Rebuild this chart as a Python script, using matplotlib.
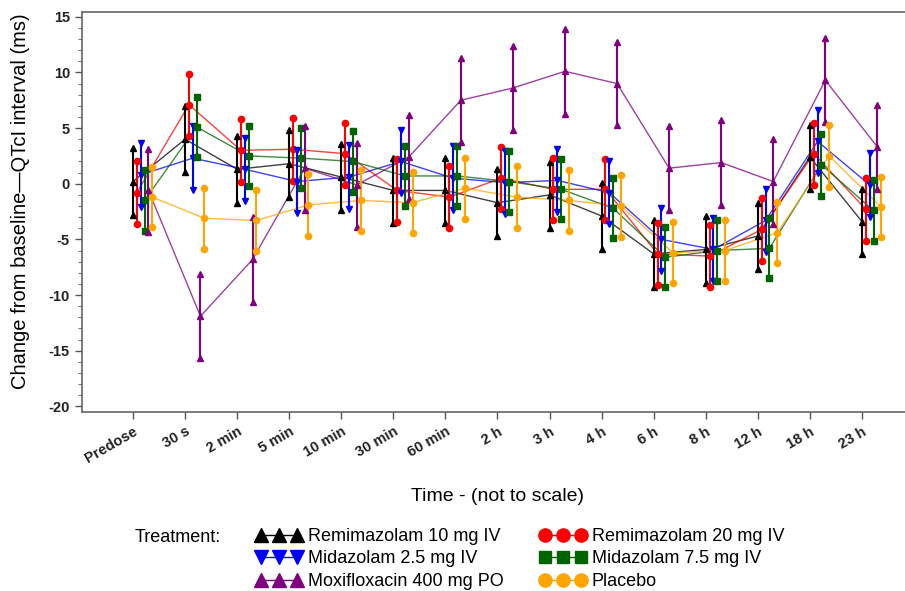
import numpy as np
import matplotlib
matplotlib.use('Agg')
import matplotlib.pyplot as plt
from matplotlib.lines import Line2D
from matplotlib.ticker import MultipleLocator

plt.rcParams['font.family'] = ['Liberation Sans', 'DejaVu Sans']
plt.rcParams['axes.unicode_minus'] = False

times = ["Predose", "30 s", "2 min", "5 min", "10 min", "30 min", "60 min",
         "2 h", "3 h", "4 h", "6 h", "8 h", "12 h", "18 h", "23 h"]

rem10 = [0.2, 4.0, 1.3, 1.8, 0.6, -0.6, -0.6, -1.7, -1.0, -2.9, -6.3, -5.9, -4.7, 2.4, -3.4]
rem10_err = [3.0, 2.95, 3.0, 3.0, 2.95, 2.95, 2.95, 3.0, 2.95, 2.95, 3.0, 3.0, 3.0, 2.9, 2.95]

rem20 = [-0.8, 7.1, 3.0, 3.1, 2.7, -0.6, -1.2, 0.5, -0.5, -0.5, -6.3, -6.5, -4.1, 2.7, -2.3]
rem20_err = [2.8, 2.8, 2.8, 2.85, 2.8, 2.8, 2.8, 2.8, 2.8, 2.75, 2.8, 2.8, 2.8, 2.8, 2.8]

mid25 = [0.8, 2.3, 1.3, 0.2, 0.6, 2.0, 0.5, 0.1, 0.3, -0.8, -5.0, -5.9, -3.3, 3.8, -0.1]
mid25_err = [2.85, 2.85, 2.85, 2.8, 2.9, 2.85, 2.85, 2.85, 2.85, 2.85, 2.85, 2.85, 2.85, 2.85, 2.9]

mid75 = [-1.5, 5.1, 2.5, 2.3, 2.0, 0.7, 0.7, 0.2, -0.5, -2.2, -6.6, -6.0, -5.8, 1.7, -2.4]
mid75_err = [2.7, 2.7, 2.7, 2.7, 2.7, 2.7, 2.7, 2.7, 2.7, 2.7, 2.7, 2.7, 2.7, 2.8, 2.75]

moxi = [-0.6, -11.9, -6.8, 1.4, -0.1, 2.4, 7.5, 8.6, 10.1, 9.0, 1.4, 1.9, 0.2, 9.3, 3.3]
moxi_err = [3.75, 3.75, 3.8, 3.8, 3.8, 3.8, 3.75, 3.75, 3.8, 3.75, 3.75, 3.8, 3.8, 3.75, 3.75]

placebo = [-1.2, -3.1, -3.3, -1.9, -1.5, -1.7, -0.4, -1.2, -1.5, -2.0, -6.2, -6.0, -4.4, 2.5, -2.1]
placebo_err = [2.7, 2.75, 2.75, 2.75, 2.75, 2.75, 2.75, 2.75, 2.75, 2.75, 2.75, 2.75, 2.75, 2.75, 2.7]

# drawing order = offset order within each time point
series = [
    ("Remimazolam 10 mg IV", rem10, rem10_err, "black", "^"),
    ("Remimazolam 20 mg IV", rem20, rem20_err, "#ff0000", "o"),
    ("Midazolam 2.5 mg IV", mid25, mid25_err, "#0000ff", "v"),
    ("Midazolam 7.5 mg IV", mid75, mid75_err, "#006400", "s"),
    ("Moxifloxacin 400 mg PO", moxi, moxi_err, "#800080", "^"),
    ("Placebo", placebo, placebo_err, "#ffa500", "o"),
]

fig = plt.figure(figsize=(9.05, 5.91), dpi=100)
ax = fig.add_axes([0.0903, 0.3029, 0.9197, 0.6763])

x = np.arange(len(times))
handles = {}
for i, (name, mean, err, color, mk) in enumerate(series):
    xs = x + i * 0.074
    mean = np.array(mean)
    err = np.array(err)
    ax.plot(xs, mean, color=color, lw=1.0, alpha=0.75, zorder=2)
    ax.errorbar(xs, mean, yerr=err, fmt='none', ecolor=color, elinewidth=1.5,
                capsize=0, zorder=3)
    ms = 4.5 if mk != "s" else 4.0
    ax.plot(np.concatenate([xs, xs, xs]), np.concatenate([mean, mean + err, mean - err]),
            linestyle='none', marker=mk, color=color, markersize=ms, zorder=4)
    handles[name] = Line2D([], [], color=color, marker=mk, markersize=9.5 if mk != "s" else 8.5,
                           lw=1.0)

ax.set_xlim(-0.985, 15.0)
ax.set_ylim(-20.5, 15.4)
ax.set_xticks(x)
ax.set_xticklabels(times, rotation=30, ha='right', rotation_mode='anchor',
                   fontsize=10.5, fontweight='bold', color='#222222')
ax.yaxis.set_major_locator(MultipleLocator(5))
ax.yaxis.set_minor_locator(MultipleLocator(1))
for lab in ax.get_yticklabels():
    lab.set_fontsize(10.5)
    lab.set_fontweight('bold')
    lab.set_color('#222222')
ax.tick_params(axis='both', which='major', direction='out', length=5, width=1,
               color='#555555')
ax.tick_params(axis='y', which='minor', direction='out', length=3, width=0.8,
               color='#777777')
ax.tick_params(axis='x', pad=4)
for sp in ax.spines.values():
    sp.set_color('#666666')
    sp.set_linewidth(1.2)

ax.set_ylabel("Change from baseline\u2014QTcI interval (ms)", fontsize=14.5)
ax.yaxis.set_label_coords(-0.062, 0.528)
ax.set_xlabel("Time - (not to scale)", fontsize=14)
ax.xaxis.set_label_coords(0.499, -0.19)

fig.text(135 / 905, 1 - 537 / 591, "Treatment:", fontsize=13, va='center', ha='left')
order = ["Remimazolam 10 mg IV", "Midazolam 2.5 mg IV", "Moxifloxacin 400 mg PO",
         "Remimazolam 20 mg IV", "Midazolam 7.5 mg IV", "Placebo"]
fig.legend([handles[n] for n in order], order, ncol=2, loc='upper left',
           bbox_to_anchor=(0.282, 1 - 528 / 591), frameon=False, fontsize=13,
           numpoints=3, handlelength=2.6, handletextpad=0.3, columnspacing=2.0,
           labelspacing=0.3, borderpad=0, borderaxespad=0)

fig.savefig("out.png", dpi=100)
